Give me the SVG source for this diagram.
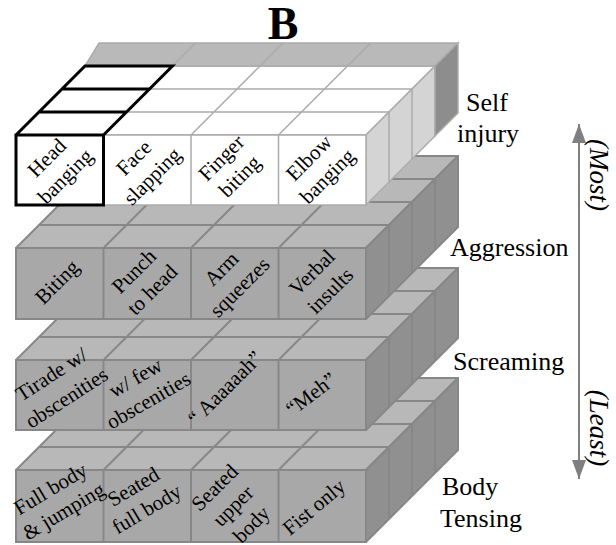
<svg xmlns="http://www.w3.org/2000/svg" width="616" height="545" viewBox="0 0 616 545">
  <defs>
    <style>
      .top { fill: #b8b8b8; stroke: #878787; stroke-width: 2; stroke-linejoin: round; }
      .side { fill: #909090; stroke: #878787; stroke-width: 2; stroke-linejoin: round; }
      .front { fill: #a8a8a8; stroke: #878787; stroke-width: 2; }
      .grid { stroke: #878787; stroke-width: 2; fill: none; }
      .w-top { fill: #ffffff; stroke: #ababab; stroke-width: 1.5; }
      .w-strip { fill: #b9b9b9; stroke: #ababab; stroke-width: 1.5; }
      .w-side { fill: #d4d4d4; stroke: #ababab; stroke-width: 1.5; }
      .w-dark { fill: #8d8d8d; stroke: #ababab; stroke-width: 1.5; }
      .w-front { fill: #ffffff; stroke: #ababab; stroke-width: 1.5; }
      .w-grid { stroke: #ababab; stroke-width: 1.5; fill: none; }
      .hl { fill: none; stroke: #000000; stroke-width: 3; stroke-linejoin: miter; }
      text { font-family: "Liberation Serif", "Times New Roman", serif; fill: #000000; }
      .cell { font-size: 21px; text-anchor: middle; }
      .lvl { font-size: 26px; }
      .axis { font-size: 27px; font-style: italic; text-anchor: middle; }
      .title { font-size: 46px; font-weight: bold; text-anchor: middle; }
    </style>
    <marker id="head" viewBox="0 0 19 14" markerWidth="19" markerHeight="14" refX="19" refY="7" orient="auto-start-reverse" markerUnits="userSpaceOnUse">
      <path d="M0,0 L19,7 L0,14 z" fill="#7f7f7f"/>
    </marker>
  </defs>

  <text class="title" x="283" y="39">B</text>

  <!-- Layer 4: body tensing (bottom, drawn first) -->
  <g id="layer-body-tensing">
    <polygon class="top" points="16,470 366,470 458,378 108,378"/>
    <path class="grid" d="M39,447 H389 M62,424 H412 M85,401 H435 M103.5,470 L195.5,378 M191,470 L283,378 M278.5,470 L370.5,378"/>
    <polygon class="side" points="366,470 458,378 458,450 366,542"/>
    <path class="grid" d="M389,447 V519 M412,424 V496 M435,401 V473"/>
    <rect class="front" x="16" y="470" width="350" height="72"/>
    <path class="grid" d="M103.5,470 V542 M191,470 V542 M278.5,470 V542"/>
    <g id="cell-full-body"><text class="cell" transform="translate(57 500) rotate(-31)"><tspan x="0" y="-6">Full body</tspan><tspan x="0" y="20">&amp; jumping</tspan></text></g>
    <g id="cell-seated-full"><text class="cell" transform="translate(140 498) rotate(-31)"><tspan x="0" y="-6">Seated</tspan><tspan x="0" y="20">full body</tspan></text></g>
    <g id="cell-seated-upper"><text class="cell" transform="translate(233 506) rotate(-45)"><tspan x="0" y="-19">Seated</tspan><tspan x="0" y="7">upper</tspan><tspan x="0" y="33">body</tspan></text></g>
    <g id="cell-fist"><text class="cell" transform="translate(314 507) rotate(-40)"><tspan x="0" y="7">Fist only</tspan></text></g>
  </g>

  <!-- Layer 3: screaming -->
  <g id="layer-screaming">
    <polygon class="top" points="16,360 366,360 458,268 108,268"/>
    <path class="grid" d="M39,337 H389 M62,314 H412 M85,291 H435 M103.5,360 L195.5,268 M191,360 L283,268 M278.5,360 L370.5,268"/>
    <polygon class="side" points="366,360 458,268 458,338 366,430"/>
    <path class="grid" d="M389,337 V407 M412,314 V384 M435,291 V361"/>
    <rect class="front" x="16" y="360" width="350" height="70"/>
    <path class="grid" d="M103.5,360 V430 M191,360 V430 M278.5,360 V430"/>
    <g id="cell-tirade"><text class="cell" transform="translate(59 386) rotate(-33)"><tspan x="0" y="-7">Tirade w/</tspan><tspan x="0" y="21">obscenities</tspan></text></g>
    <g id="cell-few"><text class="cell" transform="translate(142 389) rotate(-30)"><tspan x="0" y="-6">w/ few</tspan><tspan x="0" y="20">obscenities</tspan></text></g>
    <g id="cell-aaaaaah"><text class="cell" transform="translate(225 388) rotate(-45)"><tspan x="0" y="7">“ Aaaaaah”</tspan></text></g>
    <g id="cell-meh"><text class="cell" transform="translate(311 394) rotate(-37)"><tspan x="0" y="7">“Meh”</tspan></text></g>
  </g>

  <!-- Layer 2: aggression -->
  <g id="layer-aggression">
    <polygon class="top" points="16,248 366,248 458,156 108,156"/>
    <path class="grid" d="M39,225 H389 M62,202 H412 M85,179 H435 M103.5,248 L195.5,156 M191,248 L283,156 M278.5,248 L370.5,156"/>
    <polygon class="side" points="366,248 458,156 458,227 366,319"/>
    <path class="grid" d="M389,225 V296 M412,202 V273 M435,179 V250"/>
    <rect class="front" x="16" y="248" width="350" height="71"/>
    <path class="grid" d="M103.5,248 V319 M191,248 V319 M278.5,248 V319"/>
    <g id="cell-biting"><text class="cell" transform="translate(57 282) rotate(-45)"><tspan x="0" y="7">Biting</tspan></text></g>
    <g id="cell-punch"><text class="cell" transform="translate(143 280.5) rotate(-45)"><tspan x="0" y="-6">Punch</tspan><tspan x="0" y="20">to head</tspan></text></g>
    <g id="cell-arm"><text class="cell" transform="translate(230.5 278) rotate(-45)"><tspan x="0" y="-6">Arm</tspan><tspan x="0" y="20">squeezes</tspan></text></g>
    <g id="cell-verbal"><text class="cell" transform="translate(321 281.5) rotate(-45)"><tspan x="0" y="-6">Verbal</tspan><tspan x="0" y="20">insults</tspan></text></g>
  </g>

  <!-- Layer 1: self injury (top) -->
  <g id="layer-self-injury">
    <polygon class="w-top" points="16,135 366,135 435,66 85,66"/>
    <polygon class="w-strip" points="85,66 435,66 458,43 99,43"/>
    <path class="w-grid" d="M39,112 H389 M62,89 H412 M103.5,135 L195.5,43 M191,135 L283,43 M278.5,135 L370.5,43"/>
    <polygon class="w-side" points="366,135 435,66 435,136 366,205"/>
    <polygon class="w-dark" points="435,66 458,43 458,113 435,136"/>
    <path class="w-grid" d="M389,112 V182 M412,89 V159"/>
    <rect class="w-front" x="16" y="135" width="350" height="70"/>
    <path class="w-grid" d="M103.5,135 V205 M191,135 V205 M278.5,135 V205"/>
    <!-- highlighted column: head banging -->
    <path class="hl" d="M16,135 H103.5 V205 H16 Z M16,135 L85,66 H172.5 L103.5,135 M39,112 H126.5 M62,89 H149.5"/>
    <g id="cell-head"><text class="cell" transform="translate(56 167) rotate(-45)"><tspan x="0" y="-6">Head</tspan><tspan x="0" y="20">banging</tspan></text></g>
    <g id="cell-face"><text class="cell" transform="translate(143 167) rotate(-45)"><tspan x="0" y="-6">Face</tspan><tspan x="0" y="20">slapping</tspan></text></g>
    <g id="cell-finger"><text class="cell" transform="translate(230.5 167) rotate(-45)"><tspan x="0" y="-6">Finger</tspan><tspan x="0" y="20">biting</tspan></text></g>
    <g id="cell-elbow"><text class="cell" transform="translate(318 167) rotate(-45)"><tspan x="0" y="-6">Elbow</tspan><tspan x="0" y="20">banging</tspan></text></g>
  </g>

  <!-- Level names -->
  <g id="level-labels">
    <text class="lvl" x="487" y="111" text-anchor="middle">Self</text>
    <text class="lvl" x="488" y="142" text-anchor="middle">injury</text>
    <text class="lvl" x="450" y="256">Aggression</text>
    <text class="lvl" x="453" y="370">Screaming</text>
    <text class="lvl" x="442" y="495">Body</text>
    <text class="lvl" x="440" y="527">Tensing</text>
  </g>

  <!-- Severity axis -->
  <g id="connectors">
    <line x1="579" y1="124" x2="579" y2="479" stroke="#7f7f7f" stroke-width="2" marker-start="url(#head)" marker-end="url(#head)"/>
  </g>
  <g id="axis-labels">
    <text class="axis" transform="translate(590 175) rotate(90)">(Most)</text>
    <text class="axis" transform="translate(590 428) rotate(90)">(Least)</text>
  </g>
</svg>
